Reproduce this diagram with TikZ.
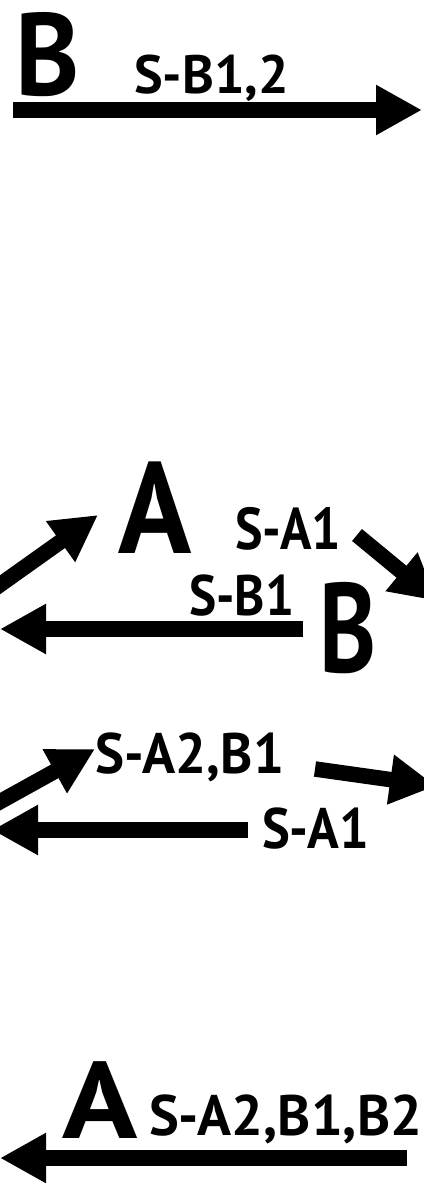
\documentclass[tikz,border=0pt]{standalone}
\usepackage{fontspec}
\usepackage{graphicx}
\setmainfont{PT Sans}
\usetikzlibrary{arrows.meta}
\newcommand\hsq[2]{\scalebox{#1}[1]{#2}}
\begin{document}
\begin{tikzpicture}[x=1pt,y=-1pt,
  lbl/.style={inner sep=0pt, anchor=base west},
  big/.style={lbl, font=\fontsize{#1}{#1}\selectfont\bfseries},
  arr/.style={line width=15.5pt, -{Triangle[width=47pt,length=46pt]}}]
\useasboundingbox (0,0) rectangle (423,1183);
% texts
\node[big=117] (B1) at (15,95) {\hsq{0.93}{B}};
\node[big=54] (t1) at (134,93) {\hsq{1.0}{S-B1,2}};
\node[big=130] (A2) at (118,553) {\hsq{0.93}{A}};
\node[big=59] (t2) at (235,549) {\hsq{0.88}{S-A1}};
\node[big=57] (t3) at (189,615) {\hsq{0.9}{S-B1}};
\node[big=127] (B2) at (319,672) {\hsq{0.76}{B}};
\node[big=57] (t4) at (95,773) {\hsq{0.96}{S-A2,B1}};
\node[big=57] (t5) at (262,848) {\hsq{0.92}{S-A1}};
\node[big=109] (A3) at (62,1138) {\hsq{1.14}{A}};
\node[big=57] (t6) at (149,1135) {\hsq{0.985}{S-A2,B1,B2}};
% arrow end points
\coordinate (p1s) at (13,110);   \coordinate (p1e) at (422,110);
\coordinate (p2s) at (-6,589);   \coordinate (p2e) at (98,515);
\coordinate (p3s) at (357,535);  \coordinate (p3e) at (437,601);
\coordinate (p4s) at (303,629);  \coordinate (p4e) at (0,629);
\coordinate (p5s) at (-6,805);   \coordinate (p5e) at (95,749);
\coordinate (p6s) at (315,769);  \coordinate (p6e) at (436,786);
\coordinate (p7s) at (248,830);  \coordinate (p7e) at (-8,830);
\coordinate (p8s) at (407,1158); \coordinate (p8e) at (0,1158);
% arrows
\draw[arr] (p1s) -- (p1e);
\draw[arr] (p2s) -- (p2e);
\draw[arr] (p3s) -- (p3e);
\draw[arr] (p4s) -- (p4e);
\draw[arr] (p5s) -- (p5e);
\draw[arr] (p6s) -- (p6e);
\draw[arr] (p7s) -- (p7e);
\draw[arr] (p8s) -- (p8e);
\end{tikzpicture}
\end{document}
